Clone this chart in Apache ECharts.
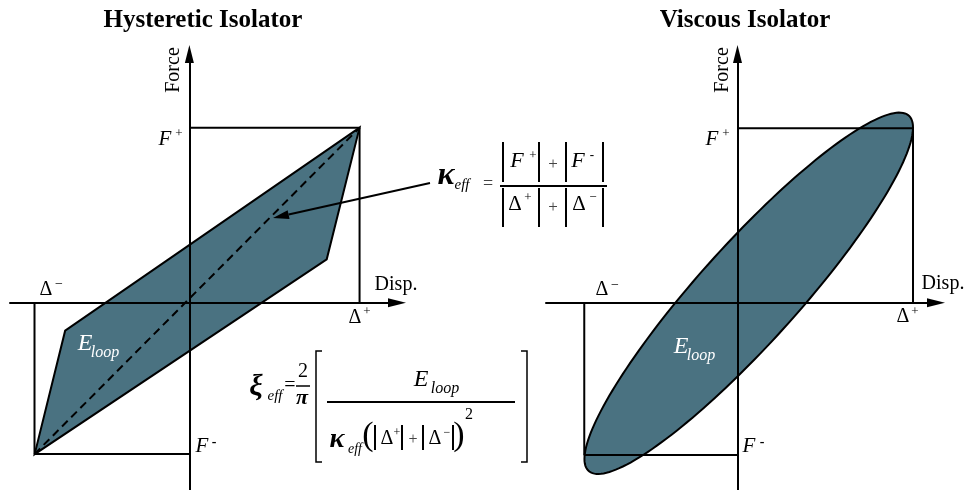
<!DOCTYPE html>
<html>
<head>
<meta charset="utf-8">
<script src="https://cdn.jsdelivr.net/npm/echarts@6/dist/echarts.min.js"></script>
<style>
  html, body { margin: 0; padding: 0; background: #fff; }
  #chart { width: 968px; height: 490px; }
</style>
</head>
<body>
<div id="chart"></div>
<script>
// ==============================
// data (normalised units: Δ+ = 1, F+ = 1)
// ==============================

const panelTitles = ['Hysteretic Isolator', 'Viscous Isolator'];

// hysteretic isolator
const hystDeltaPos = 1;
const hystDeltaNeg = -0.91;
const hystForcePos = 1;
const hystForceNeg = -0.865;
const hystLoopX = [-0.909, -0.730, 1.000, 0.807];
const hystLoopY = [-0.865, -0.160, 1.000, 0.248];

// viscous isolator (ellipse: centre, half width / half height, phase lag)
const viscDeltaPos = 1;
const viscDeltaNeg = -0.873;
const viscForcePos = 1;
const viscForceNeg = -0.873;
const viscCenter = [0.064, 0.054];
const viscHalfSize = [0.936, 1.036];
const viscPhaseDeg = 23.5;

// ==============================
// styles
// ==============================

const loopColor = '#4a7281';
const SERIF = '"Liberation Serif", "DejaVu Serif", serif';

const chart = echarts.init(document.getElementById('chart'));

function axisPair(idx, xmin, xmax, ymin, ymax) {
  const line = {
    onZero: true,
    symbol: ['none', 'triangle'],
    symbolSize: [9, 18],
    lineStyle: { color: '#000', width: 2 }
  };
  const common = {
    gridIndex: idx,
    type: 'value',
    z: 5,
    axisLine: line,
    axisTick: { show: false },
    axisLabel: { show: false },
    splitLine: { show: false }
  };
  return {
    x: Object.assign({ min: xmin, max: xmax }, common),
    y: Object.assign({ min: ymin, max: ymax }, common)
  };
}

const left = axisPair(0, -1.054, 1.220, -1.070, 1.421);
const right = axisPair(1, -1.091, 1.131, -1.074, 1.426);

function frameLine(idx, pts, dashed) {
  return {
    type: 'line',
    xAxisIndex: idx,
    yAxisIndex: idx,
    data: pts,
    symbol: 'none',
    silent: true,
    z: 4,
    lineStyle: { color: '#000', width: 2, type: dashed ? [8, 5] : 'solid' }
  };
}

// hysteretic loop polygon
const hystSeries = {
  type: 'custom',
  xAxisIndex: 0,
  yAxisIndex: 0,
  data: [0],
  z: 2,
  silent: true,
  renderItem: function (params, api) {
    const pts = hystLoopX.map((x, i) => api.coord([x, hystLoopY[i]]));
    return {
      type: 'polygon',
      shape: { points: pts },
      style: { fill: loopColor, stroke: '#000', lineWidth: 2 }
    };
  }
};

// viscous loop ellipse
const viscSeries = {
  type: 'custom',
  xAxisIndex: 1,
  yAxisIndex: 1,
  data: [0],
  z: 2,
  silent: true,
  renderItem: function (params, api) {
    const phi = viscPhaseDeg * Math.PI / 180;
    const pts = [];
    for (let k = 0; k < 180; k++) {
      const t = k / 180 * Math.PI * 2;
      pts.push(api.coord([
        viscCenter[0] + viscHalfSize[0] * Math.cos(t),
        viscCenter[1] + viscHalfSize[1] * Math.cos(t - phi)
      ]));
    }
    return {
      type: 'polygon',
      shape: { points: pts },
      style: { fill: loopColor, stroke: '#000', lineWidth: 2 }
    };
  }
};

// ==============================
// text helpers
// ==============================

function t(x, y, text, font, fill) {
  return {
    type: 'text',
    x: x,
    y: y,
    silent: true,
    z: 20,
    style: {
      text: text,
      font: font + ' ' + SERIF,
      fill: fill || '#000',
      align: 'center',
      verticalAlign: 'middle',
      textAlign: 'center',
      textVerticalAlign: 'middle'
    }
  };
}

function seg(x1, y1, x2, y2, w) {
  return {
    type: 'line',
    silent: true,
    z: 20,
    shape: { x1: x1, y1: y1, x2: x2, y2: y2 },
    style: { stroke: '#000', lineWidth: w || 2 }
  };
}

function absBars(xs, y1, y2) {
  return xs.map(x => seg(x, y1, x, y2, 2));
}

function arrow(x1, y1, x2, y2) {
  const dx = x2 - x1, dy = y2 - y1;
  const len = Math.sqrt(dx * dx + dy * dy);
  const ux = dx / len, uy = dy / len;
  const hl = 16, hw = 4.5;
  const bx = x2 - ux * hl, by = y2 - uy * hl;
  return [
    seg(x1, y1, bx, by, 2),
    {
      type: 'polygon',
      silent: true,
      z: 20,
      shape: { points: [[x2, y2], [bx - uy * hw, by + ux * hw], [bx + uy * hw, by - ux * hw]] },
      style: { fill: '#000' }
    }
  ];
}

const labels = [
  // titles
  t(203, 21, panelTitles[0], 'bold 25px'),
  t(745, 21, panelTitles[1], 'bold 25px'),
  // axis names
  Object.assign(t(174, 70, 'Force', '20px'), { rotation: Math.PI / 2 }),
  Object.assign(t(723, 70, 'Force', '20px'), { rotation: Math.PI / 2 }),
  t(396, 285, 'Disp.', '20px'),
  t(943, 284, 'Disp.', '20px'),
  // hysteretic marks
  t(165, 139, 'F', 'italic 21px'), t(179, 134, '+', '13px'),
  t(202, 446, 'F', 'italic 21px'), t(214, 442, '-', 'bold 14px'),
  t(46, 290, 'Δ', '20px'), t(59, 284, '−', '14px'),
  t(355, 318, 'Δ', '20px'), t(367, 312, '+', '13px'),
  t(85, 344, 'E', 'italic 24px', '#fff'), t(105, 353, 'loop', 'italic 16px', '#fff'),
  // viscous marks
  t(712, 139, 'F', 'italic 21px'), t(726, 134, '+', '13px'),
  t(749, 446, 'F', 'italic 21px'), t(762, 442, '-', 'bold 14px'),
  t(602, 290, 'Δ', '20px'), t(615, 285, '−', '14px'),
  t(903, 317, 'Δ', '20px'), t(915, 312, '+', '13px'),
  t(681, 347, 'E', 'italic 24px', '#fff'), t(701, 356, 'loop', 'italic 16px', '#fff'),

  // κ_eff formula
  t(446, 176, 'κ', 'bold italic 32px'), t(462, 185, 'eff', 'italic 15px'),
  t(488, 184, '=', '18px', '#444'),
  seg(500, 186, 607, 186, 2),
  ...absBars([503, 539, 566, 603], 142, 182),
  ...absBars([503, 539, 566, 603], 188, 227),
  t(517, 161, 'F', 'italic 22px'), t(533, 156, '+', '13px'),
  t(553, 165, '+', '17px', '#444'),
  t(578, 161, 'F', 'italic 22px'), t(592, 156, '-', 'bold 13px'),
  t(515, 204, 'Δ', '21px'), t(528, 198, '+', '13px'),
  t(553, 208, '+', '17px', '#444'),
  t(579, 204, 'Δ', '21px'), t(593, 198, '−', '13px'),
  ...arrow(430, 183, 273, 218),

  // ξ_eff formula
  t(256, 387, 'ξ', 'bold italic 30px'), t(275, 396, 'eff', 'italic 15px'),
  t(290, 386, '=', '20px'),
  t(303, 372, '2', '20px'), seg(296, 386, 310, 386, 1.5), t(302, 398, 'π', 'bold italic 22px'),
  {
    type: 'polyline', silent: true, z: 20,
    shape: { points: [[322, 351], [316, 351], [316, 462], [322, 462]] },
    style: { stroke: '#000', lineWidth: 1.5, fill: null }
  },
  {
    type: 'polyline', silent: true, z: 20,
    shape: { points: [[521, 351], [527, 351], [527, 462], [521, 462]] },
    style: { stroke: '#000', lineWidth: 1.5, fill: null }
  },
  seg(327, 402, 515, 402, 2),
  t(421, 380, 'E', 'italic 24px'), t(445, 389, 'loop', 'italic 16px'),
  t(337, 440, 'κ', 'bold italic 28px'), t(355, 449, 'eff', 'italic 14px'),
  t(368, 436, '(', '34px'),
  ...absBars([375, 402, 423, 453], 425, 450),
  t(387, 439, 'Δ', '20px'), t(397, 433, '+', '12px'),
  t(413, 440, '+', '16px', '#444'),
  t(435, 439, 'Δ', '20px'), t(447, 433, '−', '12px'),
  t(459, 436, ')', '34px'),
  t(469, 415, '2', '16px')
];

chart.setOption({
  animation: false,
  backgroundColor: '#fff',
  grid: [
    { left: 10, top: 54, width: 387, height: 436, containLabel: false, outerBoundsMode: 'none' },
    { left: 546, top: 54, width: 390, height: 436, containLabel: false, outerBoundsMode: 'none' }
  ],
  xAxis: [left.x, right.x],
  yAxis: [left.y, right.y],
  series: [
    hystSeries,
    frameLine(0, [[hystDeltaNeg, hystForceNeg], [hystDeltaPos, hystForcePos]], true),
    frameLine(0, [[0, hystForcePos], [hystDeltaPos, hystForcePos], [hystDeltaPos, 0]]),
    frameLine(0, [[hystDeltaNeg, 0], [hystDeltaNeg, hystForceNeg], [0, hystForceNeg]]),
    viscSeries,
    frameLine(1, [[0, viscForcePos], [viscDeltaPos, viscForcePos], [viscDeltaPos, 0]]),
    frameLine(1, [[viscDeltaNeg, 0], [viscDeltaNeg, viscForceNeg], [0, viscForceNeg]])
  ],
  graphic: labels
});

window.addEventListener('resize', () => chart.resize());
</script>
</body>
</html>
